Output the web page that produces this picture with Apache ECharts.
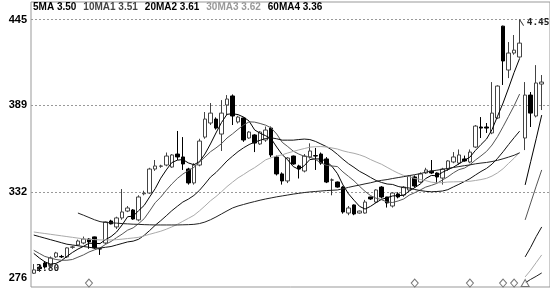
<!DOCTYPE html>
<html>
<head>
<meta charset="utf-8">
<script src="https://cdn.jsdelivr.net/npm/echarts@6/dist/echarts.min.js"></script>
<style>html,body{margin:0;padding:0;background:#fff}#c{width:550px;height:288px}</style>
</head>
<body>
<div id="c"></div>
<script>
// ---- data ----
const opens = [2.79,2.83,2.857,2.844,2.897,2.90,2.897,2.96,2.975,2.988,
3.014,3.028,2.95,2.988,3.132,3.093,3.152,3.197,3.204,3.139,
3.31,3.315,3.472,3.49,3.498,3.485,3.570,3.551,3.472,3.381,
3.498,3.681,3.773,3.799,3.701,3.891,3.950,3.780,3.806,3.675,
3.695,3.636,3.662,3.740,3.551,3.440,3.394,3.557,3.492,3.459,
3.551,3.56,3.570,3.538,3.40,3.387,3.354,3.184,3.237,3.184,
3.184,3.289,3.256,3.354,3.289,3.230,3.309,3.302,3.335,3.420,
3.387,3.446,3.459,3.446,3.413,3.472,3.518,3.511,3.538,3.518,
3.616,3.747,3.747,3.708,3.806,4.407,4.120,4.231,4.205,3.675,
3.956,3.819,4.028];
const closes = [2.812,2.82,2.831,2.890,2.923,2.897,2.956,2.962,3.001,3.014,
2.995,2.956,2.949,3.126,3.113,3.152,3.191,3.217,3.145,3.289,
3.315,3.472,3.492,3.492,3.557,3.564,3.551,3.505,3.381,3.498,
3.655,3.799,3.838,3.740,3.838,3.930,3.819,3.812,3.662,3.714,
3.642,3.714,3.727,3.564,3.440,3.394,3.544,3.505,3.472,3.557,
3.590,3.557,3.511,3.387,3.400,3.354,3.191,3.217,3.178,3.197,
3.256,3.276,3.335,3.289,3.250,3.315,3.289,3.354,3.426,3.361,
3.440,3.466,3.446,3.420,3.472,3.525,3.551,3.564,3.525,3.583,
3.753,3.740,3.740,3.838,4.015,4.179,4.231,4.250,4.296,3.956,
3.838,4.035,4.041];
const lows = [2.785,2.80,2.82,2.83,2.89,2.89,2.89,2.95,2.97,2.98,
2.95,2.95,2.91,2.98,3.11,3.08,3.14,3.19,3.14,3.13,
3.30,3.31,3.46,3.48,3.49,3.48,3.531,3.466,3.37,3.37,
3.49,3.67,3.76,3.73,3.59,3.825,3.76,3.77,3.65,3.67,
3.583,3.63,3.65,3.55,3.43,3.37,3.38,3.50,3.41,3.45,
3.54,3.466,3.50,3.38,3.30,3.35,3.18,3.17,3.17,3.18,
3.18,3.27,3.25,3.28,3.22,3.22,3.28,3.29,3.33,3.35,
3.38,3.44,3.44,3.381,3.37,3.46,3.51,3.50,3.52,3.51,
3.61,3.675,3.708,3.70,3.80,4.022,4.067,4.22,4.20,3.596,
3.747,3.81,3.858];
const highs = [2.85,2.85,2.87,2.90,2.93,2.91,2.96,2.97,3.01,3.03,
3.02,3.03,2.955,3.13,3.14,3.16,3.341,3.23,3.21,3.30,
3.33,3.48,3.531,3.50,3.58,3.57,3.721,3.681,3.48,3.51,
3.67,3.845,3.904,3.81,3.923,3.956,3.96,3.82,3.81,3.72,
3.70,3.72,3.75,3.75,3.56,3.45,3.55,3.56,3.50,3.57,
3.64,3.61,3.58,3.55,3.41,3.39,3.36,3.23,3.24,3.20,
3.27,3.29,3.34,3.36,3.29,3.32,3.32,3.36,3.43,3.43,
3.45,3.48,3.531,3.45,3.48,3.53,3.583,3.60,3.56,3.60,
3.76,3.812,3.773,4.041,4.02,4.41,4.303,4.349,4.45,4.041,
3.976,4.152,4.087];

const ma5 = [2.92,2.89,2.865,2.85,2.854,2.872,2.90,2.926,2.948,2.966,
2.986,2.986,2.984,3.01,3.03,3.06,3.106,3.16,3.164,3.20,
3.234,3.29,3.344,3.412,3.466,3.514,3.53,3.534,3.512,3.50,
3.52,3.57,3.636,3.708,3.776,3.83,3.834,3.828,3.812,3.786,
3.728,3.706,3.69,3.67,3.616,3.566,3.532,3.488,3.47,3.494,
3.534,3.538,3.538,3.522,3.49,3.442,3.368,3.31,3.268,3.228,
3.21,3.228,3.252,3.274,3.284,3.296,3.298,3.30,3.328,3.35,
3.374,3.41,3.43,3.428,3.45,3.468,3.484,3.506,3.528,3.55,
3.594,3.632,3.668,3.73,3.818,3.904,4.002,4.104,4.196];
const ma10 = [2.94,2.92,2.90,2.89,2.88,2.875,2.875,2.88,2.895,2.91,
2.929,2.943,2.955,2.979,2.998,3.023,3.046,3.072,3.087,3.115,
3.147,3.198,3.252,3.288,3.333,3.374,3.41,3.439,3.462,3.483,
3.517,3.55,3.585,3.61,3.638,3.675,3.702,3.732,3.76,3.781,
3.779,3.77,3.759,3.741,3.701,3.647,3.619,3.589,3.57,3.555,
3.55,3.535,3.513,3.496,3.492,3.488,3.453,3.424,3.395,3.359,
3.326,3.298,3.281,3.271,3.256,3.253,3.263,3.276,3.301,3.317,
3.335,3.354,3.365,3.378,3.40,3.421,3.447,3.468,3.478,3.50,
3.531,3.558,3.587,3.629,3.684,3.749,3.817,3.886,3.963];
const ma20 = [3.04,3.03,3.02,3.01,3.0,2.99,2.98,2.975,2.97,2.965,
2.96,2.955,2.955,2.96,2.965,2.975,2.985,2.995,3.0,3.0125,
3.038,3.07,3.104,3.134,3.166,3.199,3.228,3.256,3.275,3.299,
3.332,3.374,3.419,3.449,3.486,3.525,3.556,3.586,3.611,3.632,
3.648,3.66,3.672,3.676,3.67,3.661,3.661,3.661,3.665,3.668,
3.665,3.653,3.636,3.619,3.597,3.568,3.536,3.507,3.483,3.457,
3.438,3.417,3.397,3.384,3.374,3.371,3.358,3.35,3.348,3.338,
3.331,3.326,3.323,3.325,3.328,3.337,3.355,3.372,3.39,3.409,
3.433,3.456,3.476,3.504,3.542,3.585,3.632,3.677,3.72];
const ma30 = [3.06,3.055,3.05,3.045,3.04,3.035,3.03,3.025,3.02,3.015,
3.012,3.01,3.008,3.008,3.008,3.01,3.013,3.017,3.021,3.025,
3.035,3.045,3.055,3.065,3.078,3.093,3.11,3.13,3.149,3.169,
3.198,3.23,3.264,3.292,3.323,3.357,3.386,3.414,3.436,3.46,
3.481,3.506,3.532,3.546,3.557,3.565,3.577,3.587,3.597,3.606,
3.615,3.618,3.619,3.616,3.61,3.603,3.591,3.582,3.575,3.565,
3.552,3.534,3.518,3.503,3.483,3.463,3.445,3.43,3.422,3.41,
3.404,3.396,3.386,3.382,3.383,3.387,3.388,3.389,3.391,3.392,
3.397,3.403,3.411,3.426,3.447,3.474,3.509,3.543,3.581];
const ma60 = [null,null,null,null,null,null,null,null,3.184,3.17,
3.155,3.14,3.128,3.122,3.12,3.118,3.115,3.113,3.111,3.11,
3.108,3.107,3.106,3.106,3.106,3.106,3.106,3.107,3.108,3.11,
3.115,3.125,3.14,3.158,3.178,3.198,3.217,3.23,3.24,3.25,
3.259,3.268,3.276,3.283,3.29,3.296,3.302,3.308,3.313,3.318,
3.322,3.325,3.328,3.331,3.333,3.335,3.343,3.352,3.36,3.367,
3.375,3.382,3.391,3.398,3.403,3.41,3.416,3.422,3.429,3.435,
3.442,3.451,3.459,3.464,3.47,3.476,3.482,3.488,3.494,3.499,
3.506,3.511,3.515,3.521,3.529,3.539,3.55,3.562,3.578];
// moving averages after the restart (last four sessions)
const resetStart = 89;
const ma5Reset = [3.368,3.52,3.67,3.825];
const ma10Reset = [3.139,3.25,3.36,3.466];
const ma20Reset = [2.897,2.96,3.03,3.093];
const ma30Reset = [2.766,2.81,2.86,2.91];
const ma60Reset = [2.727,2.75,2.77,2.792];

const maNames = ['5MA','10MA1','20MA2','30MA3','60MA4'];
const maLegendValues = ['3.50','3.51','3.61','3.62','3.36'];
const yTickLabels = [2.76, 3.32, 3.89, 4.45];
const yGridLines = [3.32, 3.89, 4.45];
const signalDays = [10, 69, 79, 85, 87];
const triangleDays = [89];
const signalLevel = 2.726;
const highMark = {day: 88, value: 4.45, text: '4.45'};
const lowMark = {day: 1, value: 2.80, text: '2.80'};

// ---- chart ----
const nCats = 94;
const days = Array.from({length: nCats}, (_, i) => 'D' + (i + 1));
const kData = opens.map((o, i) => [o, closes[i], lows[i], highs[i]]);
const maColors = ['#000', '#555', '#111', '#aaa', '#222'];
const maMain = [ma5, ma10, ma20, ma30, ma60];
const maReset = [ma5Reset, ma10Reset, ma20Reset, ma30Reset, ma60Reset];

const series = [{
  type: 'candlestick', name: 'K',
  data: kData, barWidth: 4,
  itemStyle: {color: '#fff', color0: '#000', borderColor: '#444', borderColor0: '#000', borderColorDoji: '#333', borderWidth: 1},
  markPoint: {
    silent: true,
    data: [
      {coord: [highMark.day, highMark.value], symbol: 'path://M0,0L4,6', symbolSize: [4, 6], symbolOffset: [2, 3],
       itemStyle: {color: 'none', borderColor: '#333', borderWidth: 1},
       label: {show: true, position: 'right', distance: 1, formatter: highMark.text, color: '#222', fontSize: 9.5, fontFamily: 'DejaVu Sans Mono', fontWeight: 'bold'}},
      {coord: [lowMark.day, lowMark.value], symbol: 'rect', symbolSize: 0,
       label: {show: true, position: 'right', distance: 0, offset: [-3, -3], formatter: lowMark.text, color: '#222', fontSize: 9.5, fontFamily: 'DejaVu Sans Mono', fontWeight: 'bold'}}
    ]
  }
}];
maNames.forEach((n, k) => {
  series.push({type: 'line', name: n, data: maMain[k], symbol: 'none', lineStyle: {width: 1, color: maColors[k]}, itemStyle: {color: maColors[k]}, connectNulls: false, z: 3});
  series.push({type: 'line', name: n, data: maReset[k].map((v, j) => [resetStart + j, v]), symbol: 'none', lineStyle: {width: 1, color: maColors[k]}, itemStyle: {color: maColors[k]}, z: 3});
});
series.push({type: 'scatter', name: 'sig', data: signalDays.map(d => [d, signalLevel]), symbol: 'diamond', symbolSize: [7, 8],
  itemStyle: {color: '#fff', borderColor: '#555', borderWidth: 1}, z: 4});
series.push({type: 'scatter', name: 'sig2', data: triangleDays.map(d => [d, signalLevel]), symbol: 'triangle', symbolSize: [8, 7],
  itemStyle: {color: '#fff', borderColor: '#555', borderWidth: 1}, z: 4});

const chart = echarts.init(document.getElementById('c'), null, {renderer: 'canvas'});
chart.setOption({
  animation: false,
  backgroundColor: '#fff',
  legend: {
    top: 2, left: 28, padding: 0, itemGap: 2, itemWidth: 0, itemHeight: 0, icon: 'rect',
    selectedMode: false,
    data: maNames.map((n, k) => ({name: n, textStyle: {color: k === 3 ? '#999' : (k === 1 ? '#444' : '#000')}})),
    formatter: n => n + ' ' + maLegendValues[maNames.indexOf(n)],
    textStyle: {fontFamily: 'Liberation Sans', fontWeight: 'bold', fontSize: 10}
  },
  grid: {left: 31, right: -2, top: 2, bottom: 1, show: true, borderColor: '#999', borderWidth: 1, backgroundColor: '#fff', containLabel: false},
  xAxis: {type: 'category', data: days, boundaryGap: true, axisLine: {show: false}, axisTick: {show: false}, axisLabel: {show: false}, splitLine: {show: false}},
  yAxis: {
    type: 'value', min: 2.70, max: 4.565, scale: true,
    axisLine: {show: false},
    axisTick: {show: false, customValues: yGridLines},
    axisLabel: {customValues: yTickLabels, formatter: v => v.toFixed(2).replace('.', ''), color: '#000', fontWeight: 'bold', fontSize: 11, fontFamily: 'Liberation Sans', margin: 4},
    splitLine: {show: true, lineStyle: {color: '#999', type: [2, 2], width: 1}}
  },
  series: series
});
</script>
</body>
</html>
